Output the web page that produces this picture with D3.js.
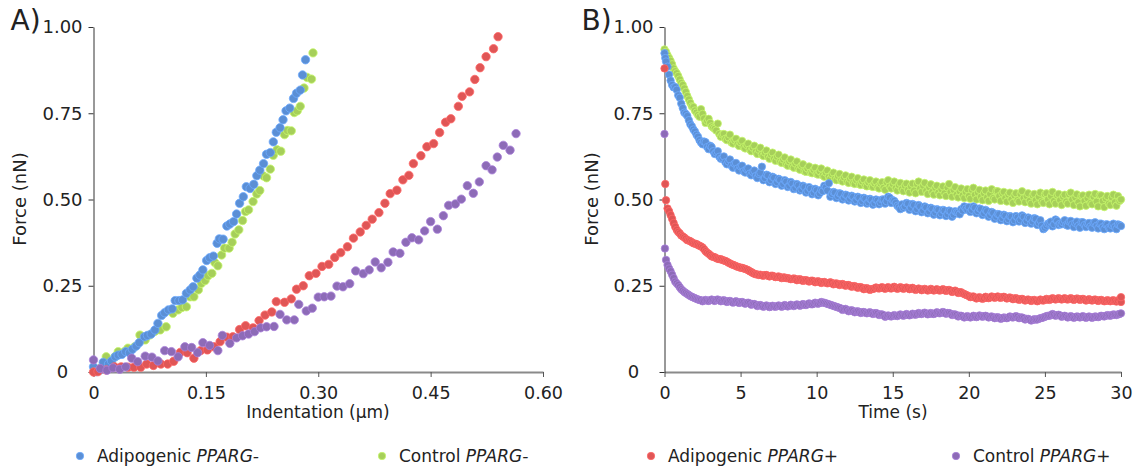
<!DOCTYPE html>
<html><head><meta charset="utf-8">
<script src="https://cdn.jsdelivr.net/npm/d3@7"></script>
<style>
body{margin:0;background:#fff;}
svg text{font-family:"DejaVu Sans",Verdana,sans-serif;fill:#222;}
</style></head><body>
<svg id="c" width="1136" height="473"></svg>
<script>
// ---------- DATA ----------
const seriesNames = ["Adipogenic", "Control", "Adipogenic", "Control"];
const seriesGenes = ["PPARG-", "PPARG-", "PPARG+", "PPARG+"];
const seriesColors = ["#5b8fd5", "#a6cf5a", "#e05656", "#8d6bb7"];

const yTicks = [0, 0.25, 0.5, 0.75, 1.0];
const yTickLabels = ["0", "0.25", "0.50", "0.75", "1.00"];
const xTicksA = [0, 0.15, 0.30, 0.45, 0.60];
const xTickLabelsA = ["0", "0.15", "0.30", "0.45", "0.60"];
const xTicksB = [0, 5, 10, 15, 20, 25, 30];

// Panel A: [indentation (µm), force (nN)]
const adipoNegA = [[0.000,0.015],[0.004,0.001],[0.009,0.006],[0.013,0.028],[0.020,0.023],[0.024,0.032],[0.029,0.044],[0.033,0.049],[0.038,0.051],[0.043,0.059],[0.048,0.056],[0.052,0.066],[0.057,0.075],[0.061,0.085],[0.068,0.102],[0.072,0.106],[0.077,0.110],[0.082,0.122],[0.086,0.141],[0.091,0.164],[0.095,0.172],[0.100,0.180],[0.105,0.183],[0.109,0.207],[0.114,0.207],[0.119,0.209],[0.124,0.228],[0.129,0.238],[0.133,0.247],[0.138,0.272],[0.142,0.281],[0.146,0.296],[0.151,0.323],[0.155,0.331],[0.160,0.336],[0.165,0.373],[0.168,0.386],[0.173,0.385],[0.178,0.423],[0.182,0.429],[0.187,0.436],[0.191,0.458],[0.195,0.489],[0.200,0.508],[0.204,0.537],[0.209,0.532],[0.214,0.544],[0.218,0.569],[0.222,0.585],[0.227,0.604],[0.231,0.631],[0.236,0.636],[0.240,0.667],[0.244,0.695],[0.249,0.708],[0.253,0.731],[0.257,0.757],[0.262,0.765],[0.267,0.793],[0.271,0.808],[0.276,0.817],[0.279,0.861],[0.283,0.905]];
const controlNegA = [[0.002,0.002],[0.009,0.011],[0.017,0.044],[0.024,0.030],[0.029,0.045],[0.033,0.059],[0.042,0.060],[0.046,0.069],[0.055,0.073],[0.062,0.107],[0.069,0.093],[0.075,0.107],[0.082,0.118],[0.089,0.122],[0.097,0.131],[0.106,0.170],[0.113,0.180],[0.118,0.187],[0.124,0.189],[0.129,0.218],[0.134,0.218],[0.140,0.238],[0.144,0.257],[0.149,0.265],[0.153,0.279],[0.158,0.286],[0.162,0.317],[0.166,0.308],[0.171,0.339],[0.175,0.359],[0.181,0.359],[0.185,0.376],[0.189,0.400],[0.194,0.412],[0.199,0.439],[0.203,0.465],[0.207,0.470],[0.213,0.494],[0.218,0.516],[0.222,0.526],[0.227,0.568],[0.231,0.563],[0.236,0.588],[0.240,0.628],[0.245,0.644],[0.250,0.640],[0.255,0.688],[0.259,0.700],[0.264,0.699],[0.268,0.752],[0.272,0.757],[0.276,0.770],[0.281,0.823],[0.285,0.854],[0.291,0.849],[0.293,0.925]];
const adipoPosA = [[0.000,0.000],[0.006,0.001],[0.017,0.006],[0.028,0.015],[0.037,0.015],[0.046,0.014],[0.054,0.014],[0.063,0.014],[0.071,0.023],[0.080,0.019],[0.090,0.023],[0.099,0.023],[0.107,0.031],[0.116,0.057],[0.125,0.056],[0.134,0.040],[0.143,0.062],[0.152,0.064],[0.161,0.073],[0.169,0.088],[0.178,0.101],[0.186,0.102],[0.195,0.123],[0.203,0.134],[0.213,0.128],[0.221,0.149],[0.229,0.165],[0.238,0.174],[0.244,0.204],[0.255,0.202],[0.264,0.212],[0.271,0.240],[0.280,0.250],[0.288,0.279],[0.297,0.286],[0.305,0.306],[0.314,0.312],[0.322,0.332],[0.330,0.346],[0.339,0.363],[0.347,0.388],[0.356,0.406],[0.364,0.425],[0.372,0.443],[0.381,0.462],[0.389,0.489],[0.396,0.517],[0.405,0.527],[0.413,0.557],[0.421,0.570],[0.427,0.604],[0.437,0.627],[0.445,0.653],[0.454,0.662],[0.462,0.694],[0.470,0.724],[0.477,0.734],[0.487,0.770],[0.492,0.799],[0.502,0.812],[0.509,0.848],[0.516,0.882],[0.524,0.914],[0.534,0.937],[0.540,0.972]];
const controlPosA = [[0.000,0.035],[0.009,0.010],[0.018,0.005],[0.026,0.012],[0.035,0.008],[0.043,0.015],[0.051,0.040],[0.059,0.030],[0.069,0.046],[0.078,0.043],[0.086,0.032],[0.095,0.062],[0.104,0.059],[0.113,0.044],[0.122,0.073],[0.131,0.071],[0.139,0.056],[0.146,0.085],[0.155,0.077],[0.166,0.062],[0.172,0.106],[0.182,0.083],[0.191,0.099],[0.199,0.105],[0.207,0.110],[0.215,0.117],[0.223,0.128],[0.231,0.131],[0.241,0.132],[0.249,0.167],[0.258,0.151],[0.268,0.151],[0.274,0.196],[0.284,0.177],[0.292,0.185],[0.300,0.217],[0.308,0.218],[0.317,0.220],[0.325,0.249],[0.333,0.247],[0.342,0.256],[0.350,0.293],[0.360,0.285],[0.368,0.296],[0.376,0.319],[0.384,0.302],[0.393,0.318],[0.400,0.348],[0.409,0.344],[0.417,0.376],[0.425,0.389],[0.434,0.383],[0.442,0.409],[0.450,0.436],[0.459,0.414],[0.467,0.453],[0.474,0.483],[0.483,0.487],[0.491,0.501],[0.499,0.540],[0.507,0.518],[0.515,0.551],[0.524,0.598],[0.532,0.586],[0.539,0.623],[0.547,0.657],[0.556,0.643],[0.564,0.691]];

// Panel B: sampling grids (s): even samples 0.2..30.0, odd samples 0.1..29.9
const timeB = d3.range(1, 151).map(i => +(i * 0.2).toFixed(1));
const timeBOdd = d3.range(0, 150).map(i => +(0.1 + i * 0.2).toFixed(1));
const adipoNegB = [
0.885,0.845,0.825,0.818,0.795,0.765,0.748,0.730,0.712,0.697,
0.682,0.665,0.668,0.652,0.656,0.640,0.636,0.624,0.620,0.608,
0.610,0.598,0.604,0.590,0.596,0.582,0.588,0.575,0.580,0.568,
0.574,0.595,0.562,0.570,0.556,0.563,0.550,0.557,0.545,0.552,
0.540,0.546,0.534,0.541,0.530,0.536,0.525,0.531,0.520,0.527,
0.518,0.524,0.535,0.547,0.516,0.520,0.510,0.516,0.505,0.512,
0.502,0.508,0.498,0.505,0.495,0.502,0.492,0.499,0.490,0.497,
0.492,0.500,0.495,0.505,0.498,0.490,0.478,0.486,0.480,0.488,
0.476,0.484,0.472,0.480,0.468,0.477,0.465,0.473,0.462,0.470,
0.460,0.468,0.458,0.466,0.456,0.463,0.457,0.468,0.474,0.478,
0.470,0.476,0.466,0.472,0.460,0.466,0.455,0.461,0.450,0.457,
0.446,0.453,0.443,0.450,0.440,0.448,0.442,0.450,0.438,0.445,
0.436,0.444,0.432,0.424,0.418,0.430,0.436,0.428,0.438,0.430,
0.434,0.426,0.436,0.428,0.432,0.424,0.434,0.426,0.430,0.422,
0.432,0.424,0.430,0.420,0.428,0.418,0.426,0.420,0.428,0.423];
const adipoNegBOdd = [
0.900,0.862,0.832,0.826,0.802,0.778,0.752,0.742,0.718,0.703,
0.688,0.672,0.660,0.666,0.646,0.652,0.632,0.640,0.618,0.625,
0.602,0.616,0.592,0.606,0.584,0.598,0.578,0.590,0.570,0.584,
0.562,0.578,0.556,0.572,0.550,0.566,0.545,0.560,0.540,0.556,
0.536,0.551,0.530,0.545,0.526,0.540,0.520,0.536,0.515,0.531,
0.512,0.528,0.540,0.526,0.508,0.522,0.504,0.518,0.500,0.514,
0.497,0.511,0.494,0.508,0.490,0.505,0.488,0.502,0.485,0.500,
0.486,0.500,0.488,0.508,0.490,0.496,0.482,0.472,0.476,0.490,
0.470,0.487,0.466,0.484,0.463,0.480,0.460,0.476,0.456,0.472,
0.454,0.470,0.452,0.468,0.450,0.466,0.462,0.472,0.480,0.470,
0.464,0.480,0.460,0.474,0.455,0.470,0.450,0.464,0.444,0.458,
0.440,0.456,0.437,0.452,0.434,0.452,0.436,0.454,0.432,0.448,
0.430,0.446,0.426,0.440,0.414,0.424,0.432,0.422,0.442,0.426,
0.428,0.440,0.424,0.438,0.420,0.436,0.418,0.434,0.420,0.432,
0.418,0.434,0.416,0.430,0.414,0.428,0.416,0.430,0.414,0.426];
const controlNegB = [
0.918,0.902,0.880,0.866,0.848,0.832,0.812,0.790,0.770,0.758,
0.745,0.762,0.735,0.728,0.722,0.708,0.700,0.690,0.688,0.676,
0.680,0.665,0.672,0.660,0.666,0.652,0.658,0.645,0.650,0.638,
0.644,0.630,0.636,0.624,0.630,0.618,0.624,0.610,0.616,0.602,
0.610,0.596,0.604,0.590,0.598,0.582,0.590,0.578,0.586,0.574,
0.582,0.570,0.578,0.566,0.573,0.560,0.568,0.556,0.564,0.552,
0.560,0.548,0.556,0.544,0.552,0.541,0.550,0.538,0.547,0.536,
0.546,0.534,0.550,0.538,0.545,0.533,0.542,0.530,0.540,0.528,
0.538,0.526,0.545,0.532,0.540,0.525,0.536,0.522,0.534,0.520,
0.530,0.518,0.535,0.522,0.528,0.514,0.524,0.512,0.522,0.510,
0.528,0.514,0.520,0.508,0.518,0.506,0.516,0.504,0.524,0.510,
0.518,0.504,0.514,0.500,0.512,0.498,0.516,0.504,0.510,0.496,
0.512,0.498,0.508,0.494,0.515,0.500,0.510,0.496,0.512,0.498,
0.508,0.494,0.515,0.500,0.506,0.492,0.510,0.496,0.504,0.490,
0.508,0.494,0.512,0.496,0.503,0.488,0.506,0.492,0.510,0.500];
const controlNegBOdd = [
0.928,0.910,0.892,0.872,0.858,0.838,0.822,0.800,0.780,0.768,
0.752,0.740,0.748,0.722,0.734,0.712,0.705,0.720,0.682,0.690,
0.672,0.688,0.662,0.676,0.655,0.670,0.648,0.662,0.640,0.656,
0.632,0.650,0.626,0.642,0.618,0.636,0.612,0.630,0.606,0.622,
0.598,0.616,0.592,0.610,0.586,0.602,0.580,0.596,0.576,0.592,
0.572,0.590,0.566,0.584,0.560,0.578,0.556,0.574,0.552,0.570,
0.548,0.566,0.545,0.562,0.542,0.558,0.538,0.556,0.536,0.552,
0.532,0.550,0.528,0.556,0.532,0.552,0.526,0.548,0.524,0.546,
0.520,0.546,0.518,0.552,0.522,0.548,0.516,0.544,0.514,0.540,
0.512,0.538,0.510,0.545,0.508,0.536,0.506,0.532,0.504,0.530,
0.502,0.534,0.500,0.528,0.498,0.526,0.496,0.530,0.500,0.524,
0.496,0.522,0.494,0.520,0.490,0.518,0.494,0.524,0.492,0.518,
0.488,0.516,0.486,0.520,0.490,0.518,0.486,0.522,0.488,0.516,
0.484,0.514,0.488,0.520,0.484,0.515,0.480,0.512,0.482,0.514,
0.486,0.516,0.480,0.512,0.478,0.510,0.484,0.514,0.482,0.496];
const adipoPosB = [
0.474,0.455,0.432,0.412,0.402,0.393,0.386,0.381,0.376,0.372,
0.368,0.364,0.356,0.346,0.339,0.334,0.330,0.327,0.325,0.322,
0.317,0.312,0.309,0.305,0.302,0.300,0.297,0.292,0.287,0.283,
0.281,0.280,0.281,0.279,0.279,0.277,0.276,0.275,0.274,0.272,
0.271,0.270,0.270,0.268,0.267,0.266,0.265,0.264,0.263,0.262,
0.261,0.260,0.259,0.258,0.258,0.256,0.255,0.254,0.253,0.252,
0.250,0.249,0.247,0.246,0.244,0.242,0.241,0.240,0.242,0.243,
0.244,0.243,0.244,0.243,0.245,0.244,0.243,0.244,0.243,0.243,
0.242,0.241,0.240,0.240,0.239,0.239,0.238,0.239,0.238,0.237,
0.238,0.238,0.237,0.236,0.234,0.233,0.231,0.228,0.224,0.220,
0.218,0.216,0.215,0.214,0.214,0.215,0.216,0.217,0.217,0.216,
0.217,0.216,0.215,0.214,0.213,0.212,0.211,0.210,0.209,0.208,
0.208,0.207,0.207,0.208,0.209,0.210,0.211,0.212,0.212,0.212,
0.212,0.211,0.212,0.212,0.211,0.212,0.211,0.210,0.209,0.209,
0.209,0.208,0.208,0.207,0.206,0.207,0.207,0.206,0.207,0.217];
const adipoPosBOdd = [
0.498,0.466,0.444,0.421,0.406,0.396,0.390,0.382,0.379,0.373,
0.371,0.366,0.361,0.350,0.343,0.335,0.333,0.328,0.327,0.323,
0.320,0.315,0.311,0.307,0.304,0.302,0.299,0.295,0.290,0.285,
0.283,0.282,0.279,0.281,0.277,0.279,0.275,0.277,0.272,0.274,
0.272,0.269,0.271,0.266,0.269,0.264,0.266,0.262,0.265,0.260,
0.263,0.258,0.261,0.257,0.260,0.254,0.257,0.252,0.255,0.250,
0.252,0.247,0.249,0.244,0.246,0.240,0.243,0.238,0.241,0.245,
0.242,0.246,0.241,0.246,0.242,0.247,0.241,0.246,0.241,0.245,
0.240,0.244,0.238,0.242,0.237,0.241,0.236,0.241,0.236,0.240,
0.236,0.240,0.235,0.238,0.232,0.236,0.229,0.231,0.226,0.222,
0.217,0.219,0.213,0.217,0.212,0.218,0.214,0.219,0.215,0.219,
0.215,0.218,0.213,0.216,0.211,0.214,0.209,0.212,0.207,0.210,
0.206,0.209,0.205,0.210,0.207,0.212,0.209,0.214,0.210,0.214,
0.210,0.214,0.210,0.214,0.209,0.213,0.209,0.212,0.207,0.211,
0.207,0.210,0.206,0.209,0.205,0.208,0.205,0.208,0.204,0.210];
const controlPosB = [
0.310,0.292,0.272,0.257,0.246,0.236,0.229,0.223,0.218,0.214,
0.210,0.208,0.207,0.207,0.208,0.208,0.209,0.208,0.207,0.206,
0.205,0.204,0.203,0.203,0.202,0.201,0.200,0.199,0.197,0.195,
0.193,0.192,0.191,0.191,0.190,0.190,0.191,0.191,0.191,0.192,
0.192,0.193,0.193,0.194,0.194,0.195,0.196,0.197,0.198,0.199,
0.200,0.201,0.199,0.196,0.193,0.190,0.187,0.184,0.182,0.180,
0.178,0.177,0.175,0.174,0.173,0.172,0.172,0.171,0.170,0.169,
0.167,0.165,0.162,0.162,0.163,0.163,0.164,0.165,0.165,0.166,
0.166,0.167,0.168,0.169,0.170,0.170,0.169,0.169,0.170,0.171,
0.172,0.172,0.171,0.169,0.167,0.165,0.163,0.161,0.160,0.160,
0.160,0.161,0.161,0.162,0.162,0.161,0.160,0.159,0.158,0.157,
0.156,0.157,0.158,0.159,0.160,0.160,0.158,0.156,0.154,0.152,
0.151,0.152,0.154,0.157,0.160,0.163,0.165,0.166,0.165,0.164,
0.162,0.161,0.160,0.160,0.159,0.160,0.160,0.159,0.159,0.159,
0.159,0.160,0.161,0.162,0.163,0.164,0.165,0.166,0.167,0.170];
const controlPosBOdd = [
0.325,0.300,0.282,0.262,0.252,0.240,0.232,0.226,0.220,0.216,
0.212,0.209,0.205,0.209,0.206,0.210,0.206,0.210,0.205,0.208,
0.203,0.206,0.201,0.205,0.200,0.203,0.198,0.201,0.195,0.197,
0.191,0.194,0.189,0.193,0.188,0.192,0.189,0.193,0.189,0.194,
0.190,0.195,0.191,0.196,0.192,0.197,0.194,0.199,0.196,0.201,
0.198,0.203,0.201,0.198,0.195,0.192,0.189,0.186,0.180,0.183,
0.176,0.179,0.173,0.176,0.171,0.174,0.170,0.173,0.168,0.171,
0.165,0.167,0.160,0.164,0.161,0.165,0.162,0.167,0.163,0.168,
0.164,0.169,0.166,0.171,0.168,0.172,0.167,0.171,0.168,0.173,
0.170,0.174,0.169,0.171,0.165,0.167,0.161,0.163,0.158,0.162,
0.158,0.163,0.159,0.164,0.160,0.163,0.158,0.161,0.156,0.159,
0.154,0.158,0.156,0.161,0.158,0.162,0.156,0.158,0.152,0.154,
0.149,0.153,0.152,0.156,0.158,0.162,0.163,0.168,0.163,0.166,
0.160,0.163,0.158,0.162,0.157,0.161,0.158,0.162,0.157,0.161,
0.157,0.161,0.159,0.163,0.161,0.165,0.163,0.167,0.165,0.168];
// extra off-grid samples [time, force] (start-of-relaxation points and end points)
const adipoNegBExtra = [[0.0,0.924],[0.05,0.910]];
const controlNegBExtra = [[0.0,0.935]];
const adipoPosBExtra = [[0.0,0.880],[0.05,0.545],[30.0,0.203]];
const controlPosBExtra = [[0.0,0.690],[0.03,0.358]];

// ---------- DRAW ----------
const svg = d3.select("#c");
const yScale = d3.scaleLinear().domain([0, 1]).range([372, 27]);
const xA = d3.scaleLinear().domain([0, 0.6]).range([93.5, 543]);
const xB = d3.scaleLinear().domain([0, 30]).range([664.5, 1121]);

function drawAxes(x, xticks, xlabels, xTitle, panelLabel, labelX, titleX) {
  const g = svg.append("g");
  const xa = g.append("g").attr("transform", "translate(0,372)")
    .call(d3.axisBottom(x).tickValues(xticks).tickSize(5).tickSizeOuter(0)
      .tickFormat((d, i) => xlabels[i]));
  xa.select(".domain").attr("stroke", "#8a8a8a").attr("stroke-width", 2);
  xa.selectAll(".tick line").attr("stroke", "#555");
  xa.selectAll(".tick text").attr("font-size", 17.5).attr("dy", 0).attr("y", 27).attr("fill", "#222");
  const ya = g.append("g").attr("transform", `translate(${x.range()[0]},0)`)
    .call(d3.axisLeft(yScale).tickValues(yTicks).tickSize(5).tickSizeOuter(0)
      .tickFormat((d, i) => yTickLabels[i]));
  ya.select(".domain").attr("stroke", "#333").attr("stroke-width", 1);
  ya.selectAll(".tick line").attr("stroke", "#333");
  ya.selectAll(".tick text").attr("font-size", 18).attr("text-anchor", "middle")
    .attr("x", -31).attr("fill", "#222");
  g.append("text").attr("x", titleX).attr("y", 418).attr("text-anchor", "middle")
    .attr("font-size", 17).text(xTitle);
  g.append("text").attr("transform", `translate(${labelX},199) rotate(-90)`)
    .attr("text-anchor", "middle").attr("dy", "0.35em").attr("font-size", 18).text("Force (nN)");
  g.append("text").attr("x", x.range()[0] - 83).attr("y", 30).attr("font-size", 28).text(panelLabel);
}

drawAxes(xA, xTicksA, xTickLabelsA, "Indentation (µm)", "A)", 20, 318);
drawAxes(xB, xTicksB, xTicksB.map(String), "Time (s)", "B)", 592, 893);

function dots(data, x, color, r) {
  svg.append("g").selectAll("circle").data(data).join("circle")
    .attr("cx", d => x(d[0])).attr("cy", d => yScale(d[1])).attr("r", r)
    .attr("fill", color).attr("stroke", d3.color(color).brighter(0.5)).attr("stroke-width", 0.8);
}

// Panel A
const seriesA = [adipoNegA, controlNegA, adipoPosA, controlPosA];
[1, 0, 2, 3].forEach(i => dots(seriesA[i], xA, seriesColors[i], 4.2));

// Panel B
const valsB = [adipoNegB, controlNegB, adipoPosB, controlPosB];
const valsBOdd = [adipoNegBOdd, controlNegBOdd, adipoPosBOdd, controlPosBOdd];
const extraB = [adipoNegBExtra, controlNegBExtra, adipoPosBExtra, controlPosBExtra];
[1, 0, 2, 3].forEach(i => {
  const pts = extraB[i]
    .concat(timeBOdd.map((t, k) => [t, valsBOdd[i][k]]))
    .concat(timeB.map((t, k) => [t, valsB[i][k]]))
    .sort((a, b) => a[0] - b[0]);
  dots(pts, xB, seriesColors[i], 3.7);
});

// Legend
const legendX = [80, 382, 651, 956];
seriesNames.forEach((name, i) => {
  const g = svg.append("g").attr("transform", `translate(${legendX[i]},456)`);
  g.append("circle").attr("r", 3.7).attr("fill", seriesColors[i])
    .attr("stroke", d3.color(seriesColors[i]).brighter(0.5)).attr("stroke-width", 0.8);
  const t = g.append("text").attr("x", 17).attr("dy", "0.35em").attr("font-size", 17);
  t.append("tspan").text(name + " ");
  t.append("tspan").attr("font-style", "italic").text(seriesGenes[i]);
});
</script>
</body></html>
